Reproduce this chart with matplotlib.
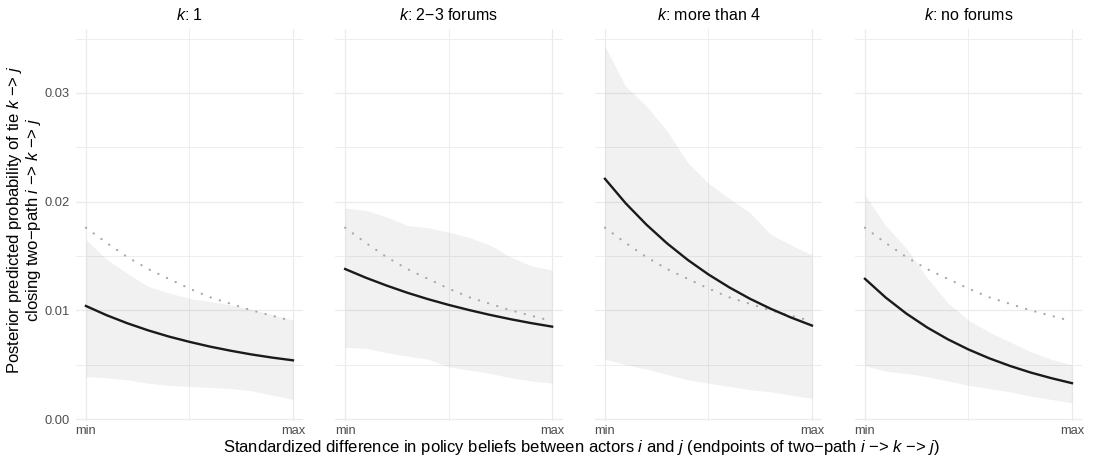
import matplotlib
matplotlib.use("Agg")
from matplotlib import pyplot as plt
from matplotlib.ticker import FixedLocator

plt.rcParams["font.family"] = ["Liberation Sans", "DejaVu Sans"]
plt.rcParams["mathtext.fontset"] = "custom"
plt.rcParams["mathtext.rm"] = "Liberation Sans"
plt.rcParams["mathtext.it"] = "Liberation Sans:italic"

# grid of the standardized difference (0 = min, 1 = max)
x_pos = [0.0, 0.1, 0.2, 0.3, 0.4, 0.5, 0.6, 0.7, 0.8, 0.9, 1.0]

panel_titles = [r"$\mathit{k}$: 1", r"$\mathit{k}$: 2−3 forums",
                r"$\mathit{k}$: more than 4", r"$\mathit{k}$: no forums"]

# reference curve (dotted), same in every panel
baseline = [0.0176, 0.0162, 0.0149, 0.0138, 0.0129, 0.0120, 0.0112, 0.0106, 0.0100, 0.0095, 0.0090]

mean_1 = [0.0104, 0.00955, 0.00881, 0.00816, 0.00759, 0.0071, 0.00666, 0.00628, 0.00594, 0.00565, 0.0054]
upper_1 = [0.0165, 0.0147, 0.0134, 0.0122, 0.0116, 0.0111, 0.0108, 0.0105, 0.0101, 0.0096, 0.0091]
lower_1 = [0.0039, 0.0038, 0.0036, 0.0033, 0.0031, 0.0030, 0.0029, 0.0028, 0.0026, 0.0022, 0.0018]

mean_2 = [0.0138, 0.0130, 0.01228, 0.01162, 0.01103, 0.0105, 0.01002, 0.00958, 0.00918, 0.00882, 0.0085]
upper_2 = [0.0194, 0.0192, 0.0186, 0.0178, 0.0176, 0.0172, 0.0167, 0.0160, 0.0149, 0.0141, 0.0137]
lower_2 = [0.0066, 0.0065, 0.0061, 0.0058, 0.0055, 0.0048, 0.0045, 0.0042, 0.0038, 0.0035, 0.0033]

mean_3 = [0.0221, 0.01985, 0.01789, 0.01616, 0.01464, 0.0133, 0.01212, 0.01107, 0.01015, 0.00933, 0.0086]
upper_3 = [0.0343, 0.0306, 0.0288, 0.0265, 0.0236, 0.0217, 0.0203, 0.0190, 0.0170, 0.0160, 0.0151]
lower_3 = [0.0055, 0.0050, 0.0046, 0.0041, 0.0036, 0.0033, 0.0030, 0.0027, 0.0025, 0.0022, 0.0019]

mean_4 = [0.0129, 0.01118, 0.0097, 0.00843, 0.00734, 0.0064, 0.00559, 0.00489, 0.00428, 0.00376, 0.0033]
upper_4 = [0.0206, 0.0178, 0.0157, 0.0130, 0.0107, 0.0091, 0.0080, 0.0071, 0.0062, 0.0055, 0.0050]
lower_4 = [0.0049, 0.0044, 0.0042, 0.0039, 0.0035, 0.0031, 0.0028, 0.0025, 0.0021, 0.0018, 0.0015]

means = [mean_1, mean_2, mean_3, mean_4]
uppers = [upper_1, upper_2, upper_3, upper_4]
lowers = [lower_1, lower_2, lower_3, lower_4]

y_ticks = [0.00, 0.01, 0.02, 0.03]
y_tick_labels = ["0.00", "0.01", "0.02", "0.03"]
y_minor = [0.005, 0.015, 0.025, 0.035]
x_tick_labels = ["min", "max"]

W, H = 1093, 461
fig = plt.figure(figsize=(W / 100, H / 100), dpi=100)

lefts = [75.6, 334.8, 594.6, 854.6]
pw = 227.7
bottom_px, top_px = 421.2, 28.8

for i in range(4):
    ax = fig.add_axes([lefts[i] / W, 1 - bottom_px / H, pw / W, (bottom_px - top_px) / H])
    ax.set_xlim(-0.05, 1.05)
    ax.set_ylim(-0.0002, 0.0359)
    for s in ax.spines.values():
        s.set_visible(False)
    ax.set_axisbelow(True)
    ax.xaxis.set_major_locator(FixedLocator([0, 1]))
    ax.xaxis.set_minor_locator(FixedLocator([0.5]))
    ax.yaxis.set_major_locator(FixedLocator(y_ticks))
    ax.yaxis.set_minor_locator(FixedLocator(y_minor))
    ax.grid(which="major", color="#ebebeb", lw=0.9)
    ax.grid(which="minor", color="#eeeeee", lw=0.7)
    ax.tick_params(which="both", length=0, labelsize=9.3, labelcolor="#4d4d4d")
    ax.tick_params(axis="x", pad=3)
    ax.tick_params(axis="y", pad=4)
    ax.set_xticklabels(x_tick_labels)
    if i == 0:
        ax.set_yticklabels(y_tick_labels)
    else:
        ax.set_yticklabels([])

    ax.fill_between(x_pos, lowers[i], uppers[i], color="grey", alpha=0.11, lw=0)
    ax.plot(x_pos, baseline, color="#a8a8a8", lw=1.6, linestyle=(0, (0.1, 4.2)),
            dash_capstyle="round")
    ax.plot(x_pos, means[i], color="#1a1a1a", lw=1.7)
    ax.set_title(panel_titles[i], fontsize=11.5, pad=6)

fig.text(0.5316, 1 - 447 / H,
         r"Standardized difference in policy beliefs between actors $\mathit{i}$ and $\mathit{j}$ "
         r"(endpoints of two−path $\mathit{i}$ −> $\mathit{k}$ −> $\mathit{j}$)",
         ha="center", va="center", fontsize=12)
fig.text(0.0224, 0.523,
         "Posterior predicted probability of tie $\\mathit{k}$ −> $\\mathit{j}$\n"
         "closing two−path $\\mathit{i}$ −> $\\mathit{k}$ −> $\\mathit{j}$",
         ha="center", va="center", rotation=90, fontsize=12, linespacing=1.0)

fig.savefig("out.png", dpi=100)
